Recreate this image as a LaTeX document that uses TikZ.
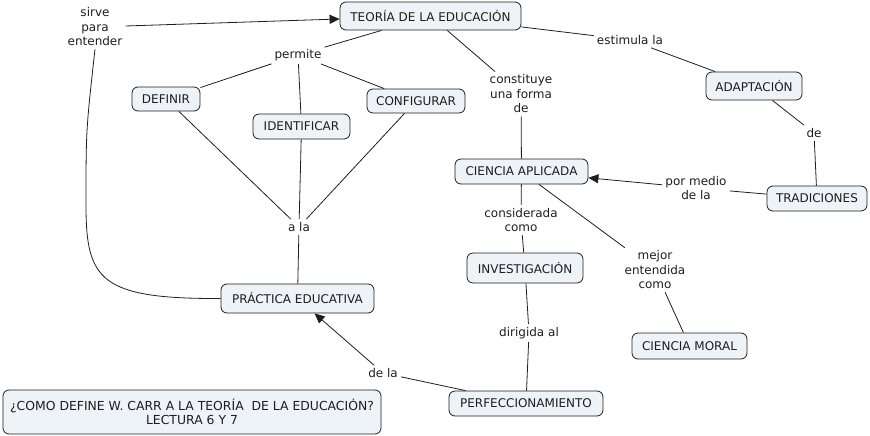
\documentclass[tikz,border=0pt]{standalone}
\usepackage{fontspec}
\setmainfont{DejaVu Sans}
\usetikzlibrary{arrows.meta}
\definecolor{boxfill}{RGB}{237,243,247}
\definecolor{ink}{RGB}{30,30,30}
\begin{document}
\begin{tikzpicture}[x=1pt,y=-1pt,
  every node/.style={font=\fontsize{12}{14.5}\selectfont, text=ink},
  box/.style 2 args={draw=ink, fill=boxfill, rounded corners=6pt, line width=0.8pt,
     minimum width=#1, minimum height=#2, inner sep=0pt, align=center},
  lbl/.style={align=center, inner sep=3pt},
  conn/.style={draw=ink, line width=0.8pt},
  arr/.style={conn, -{Triangle[length=10pt,width=9pt]}}]
\useasboundingbox (0,0) rectangle (870,436);
% concepts
\node[box={181pt}{28pt}] (teo) at (430.5,16) {TEORÍA DE LA EDUCACIÓN};
\node[box={68pt}{24pt}] (def) at (166,99) {DEFINIR};
\node[box={97pt}{25pt}] (ide) at (301.5,126.5) {IDENTIFICAR};
\node[box={98pt}{24pt}] (con) at (416,101) {CONFIGURAR};
\node[box={96pt}{28pt}] (ada) at (754,86) {ADAPTACIÓN};
\node[box={100pt}{25pt}] (tra) at (817,198.5) {TRADICIONES};
\node[box={133pt}{25pt}] (cap) at (521.5,171.5) {CIENCIA APLICADA};
\node[box={116pt}{30pt}] (inv) at (525,268) {INVESTIGACIÓN};
\node[box={153pt}{29pt}] (pra) at (297.5,298.5) {PRÁCTICA EDUCATIVA};
\node[box={115pt}{26pt}] (cmo) at (689.5,346) {CIENCIA MORAL};
\node[box={154pt}{25pt}] (per) at (526,403.5) {PERFECCIONAMIENTO};
\node[box={378pt}{44pt}, font=\fontsize{12.4}{13.5}\selectfont] (tit) at (192,412) {¿COMO DEFINE W. CARR A LA TEORÍA\ \ DE LA EDUCACIÓN?\\LECTURA 6 Y 7};
% linking phrases
\node[lbl] (sir) at (95,27) {sirve\\para\\entender};
\node[lbl] (perm) at (298,55) {permite};
\node[lbl] (est) at (630,40) {estimula la};
\node[lbl] (cons) at (521,94) {constituye\\una forma\\de};
\node[lbl] (de) at (814,133) {de};
\node[lbl] (pml) at (696,188) {por medio\\de la};
\node[lbl] (cc) at (521,220) {considerada\\como};
\node[lbl] (ala) at (299,227) {a la};
\node[lbl] (mec) at (655,270) {mejor\\entendida\\como};
\node[lbl] (dir) at (529,333) {dirigida al};
\node[lbl] (dla) at (383,373) {de la};
% connectors
\draw[conn] (teo) -- (perm);
\draw[conn] (perm) -- (def);
\draw[conn] (perm) -- (ide);
\draw[conn] (perm) -- (con);
\draw[conn] (def) -- (ala);
\draw[conn] (ide) -- (ala);
\draw[conn] (con) -- (ala);
\draw[conn] (ala) -- (pra);
\draw[conn] (pra.west) .. controls (100,299) and (86,280) .. (86,205) .. controls (86,130) .. (sir.south);
\draw[arr] (sir) -- (teo);
\draw[conn] (teo) -- (est);
\draw[conn] (est) -- (ada);
\draw[conn] (ada) -- (de);
\draw[conn] (de) -- (tra);
\draw[conn] (tra) -- (pml);
\draw[arr] (pml) -- (cap);
\draw[conn] (teo) -- (cons);
\draw[conn] (cons) -- (cap);
\draw[conn] (cap) -- (cc);
\draw[conn] (cc) -- (inv);
\draw[conn] (inv) -- (dir);
\draw[conn] (dir) -- (per);
\draw[conn] (per) -- (dla);
\draw[arr] (dla) -- (pra);
\draw[conn] (cap) -- (mec);
\draw[conn] (mec) -- (cmo);
\end{tikzpicture}
\end{document}
